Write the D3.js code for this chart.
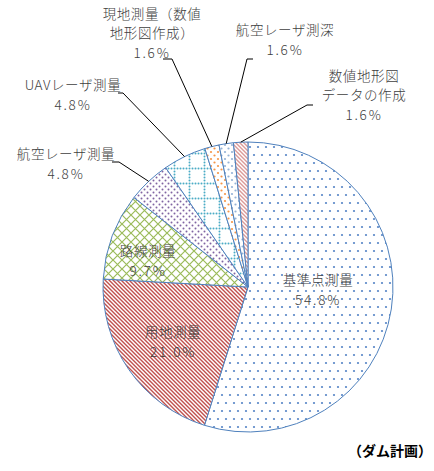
<!DOCTYPE html>
<meta charset="utf-8">
<style>
body { margin: 0; background: #fff; }
svg text { font-family: "Noto Sans CJK JP", sans-serif; fill: #404040; }
.lbl { font-size: 13.5px; font-weight: 300; letter-spacing: 0.6px; }
.pct { letter-spacing: 1.8px; }
.title { font-size: 14px; font-weight: 700; fill: #000; }
</style>
<svg width="434" height="471"></svg>
<script src="https://d3js.org/d3.v7.min.js"></script>
<script>
// chart data
var categories = ["基準点測量", "用地測量", "路線測量", "航空レーザ測量", "UAVレーザ測量",
                  "現地測量（数値地形図作成）", "航空レーザ測深", "数値地形図データの作成"];
var values = [54.8, 21.0, 9.7, 4.8, 4.8, 1.6, 1.6, 1.6];
// how each category name is broken into lines
var labelLines = [["基準点測量"], ["用地測量"], ["路線測量"], ["航空レーザ測量"], ["UAVレーザ測量"],
                  ["現地測量（数値", "地形図作成）"], ["航空レーザ測深"], ["数値地形図", "データの作成"]];

var svg = d3.select("svg"),
    cx = 248, cy = 287, r = 145;

var defs = svg.append("defs");

function dotPattern(id, w, h, pts, color, rad) {
  var p = defs.append("pattern").attr("id", id)
      .attr("patternUnits", "userSpaceOnUse").attr("width", w).attr("height", h);
  p.append("rect").attr("width", w).attr("height", h).attr("fill", "#fff");
  pts.forEach(function(q) {
    p.append("circle").attr("cx", q[0]).attr("cy", q[1]).attr("r", rad).attr("fill", color);
  });
}
function pathPattern(id, w, h, d, color, sw) {
  var p = defs.append("pattern").attr("id", id)
      .attr("patternUnits", "userSpaceOnUse").attr("width", w).attr("height", h);
  p.append("rect").attr("width", w).attr("height", h).attr("fill", "#fff");
  p.append("path").attr("d", d).attr("stroke", color).attr("stroke-width", sw).attr("fill", "none");
}

dotPattern("p0", 8, 16, [[2, 4], [6, 12]], "#5584c6", 1.1);
pathPattern("p1", 4, 4, "M0,0L4,4M-1,3L1,5M3,-1L5,1", "#c0504d", 1.4);
pathPattern("p2", 9, 9, "M0,0L9,9M9,0L0,9", "#9bbb59", 1.2);
dotPattern("p3", 6, 6, [[1.5, 1.5], [4.5, 4.5]], "#8064a2", 1);
var uavPts = [];
for (var i = 0; i < 5; i++) { uavPts.push([i * 3 + 1.5, 1.5]); if (i) uavPts.push([1.5, i * 3 + 1.5]); }
dotPattern("p4", 15, 15, uavPts, "#4bacc6", 1);
dotPattern("p5", 7, 7, [[1.5, 1.5], [5, 5]], "#f79646", 1.1);
dotPattern("p6", 7, 7, [[1.5, 1.5], [5, 5]], "#95b3d7", 1.1);
pathPattern("p7", 4, 4, "M0,0L4,4M-1,3L1,5M3,-1L5,1", "#dc9a98", 1.4);

var pie = d3.pie().sort(null).value(function(d) { return d; });
var arcs = pie(values);
var arc = d3.arc().innerRadius(0).outerRadius(r);

var g = svg.append("g").attr("transform", "translate(" + cx + "," + cy + ")");

g.selectAll("path.slice")
  .data(arcs)
  .enter().append("path")
    .attr("class", "slice")
    .attr("d", arc)
    .attr("fill", function(d, i) { return "url(#p" + i + ")"; })
    .attr("stroke", "#4f81bd")
    .attr("stroke-width", 1);

// label layout: centre x, first baseline y, and leader elbow (x0 -> x1 at y) for outside labels
var layout = [
  { x: 318, y: 286 },
  { x: 173, y: 338 },
  { x: 148, y: 257 },
  { x: 66,  y: 160, lead: [112, 119, 162] },
  { x: 73,  y: 91,  lead: [118, 123, 93] },
  { x: 152, y: 20,  lead: [163, 172, 59] },
  { x: 285, y: 36,  lead: [253, 247, 59] },
  { x: 364, y: 82,  lead: [313, 307, 105] }
];
var lineH = 19.6;

arcs.forEach(function(d, i) {
  var L = layout[i];
  var lines = labelLines[i].concat([values[i].toFixed(1) + "%"]);
  var y0 = L.y - (lines.length - 1) * 0.6;
  lines.forEach(function(s, k) {
    svg.append("text")
      .attr("class", k === lines.length - 1 ? "lbl pct" : "lbl")
      .attr("text-anchor", "middle")
      .attr("x", L.x).attr("y", y0 + k * lineH)
      .text(s);
  });
  if (L.lead) {
    var a = (d.startAngle + d.endAngle) / 2;
    var ex = cx + r * Math.sin(a), ey = cy - r * Math.cos(a);
    svg.append("polyline")
      .attr("points", [[L.lead[0], L.lead[2]], [L.lead[1], L.lead[2]], [ex, ey]].join(" "))
      .attr("fill", "none").attr("stroke", "#000").attr("stroke-width", 1);
  }
});

svg.append("text").attr("class", "title")
  .attr("x", 432).attr("y", 456).attr("text-anchor", "end")
  .text("（ダム計画）");
</script>
</html>
